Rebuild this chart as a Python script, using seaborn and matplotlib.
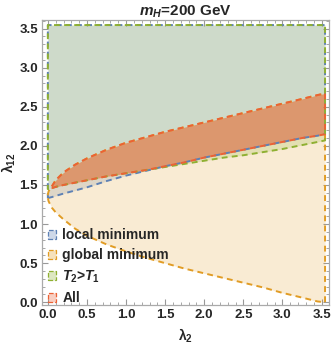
import numpy as np
import seaborn as sns
import matplotlib.pyplot as plt
from matplotlib.patches import Patch
from matplotlib.colors import to_rgba
from matplotlib.ticker import MultipleLocator

# common lambda_2 grid for all boundaries
lam2 = [0, 0.01, 0.03, 0.05, 0.1, 0.2, 0.35, 0.5, 0.75, 1.0, 1.25, 1.5, 1.75,
        2.0, 2.25, 2.5, 2.75, 3.0, 3.25, 3.45, 3.545]
# lower edge of local-minimum region
local_lo = [1.33, 1.335, 1.34, 1.345, 1.36, 1.39, 1.43, 1.47, 1.55, 1.62, 1.68,
            1.74, 1.79, 1.85, 1.90, 1.95, 2.00, 2.05, 2.10, 2.13, 2.15]
# global-minimum region, lower and upper edge
global_lo = [1.33, 1.29, 1.25, 1.21, 1.15, 1.06, 0.94, 0.85, 0.74, 0.65, 0.57,
             0.50, 0.43, 0.37, 0.31, 0.25, 0.19, 0.12, 0.06, 0.01, 0.0]
global_hi = [1.38, 1.42, 1.45, 1.48, 1.56, 1.66, 1.76, 1.84, 1.95, 2.04, 2.11,
             2.18, 2.24, 2.30, 2.36, 2.42, 2.48, 2.54, 2.60, 2.65, 2.67]
# lower edge of T2>T1 region
t2_lo = [1.44, 1.445, 1.455, 1.46, 1.475, 1.50, 1.53, 1.56, 1.61, 1.65, 1.69,
         1.73, 1.77, 1.81, 1.85, 1.88, 1.92, 1.96, 2.01, 2.05, 2.07]
lam_max = 3.545

labels = ["local minimum", "global minimum", "$T_2$>$T_1$", "All"]
colors = ["#5E81B5", "#E19C24", "#8FB032", "#EB6235"]

sns.set_theme(style="ticks")
plt.rcParams['font.family'] = ['Liberation Sans', 'DejaVu Sans']
plt.rcParams['font.weight'] = 'bold'
plt.rcParams['mathtext.fontset'] = 'custom'
plt.rcParams['mathtext.rm'] = 'Liberation Sans:bold'
plt.rcParams['mathtext.bf'] = 'Liberation Sans:bold'
plt.rcParams['mathtext.it'] = 'Liberation Sans:bold:italic'

fig = plt.figure(figsize=(3.32, 3.5), dpi=100)
ax = fig.add_axes([0.1265, 0.1286, 0.8655, 0.8143])

x = np.array(lam2)
top = np.full_like(x, lam_max)
lo_all = np.maximum(local_lo, t2_lo)
hi = np.array(global_hi)

ax.fill_between(x, local_lo, top, color=colors[0], alpha=0.2, lw=0)
ax.fill_between(x, global_lo, global_hi, color=colors[1], alpha=0.2, lw=0)
ax.fill_between(x, t2_lo, top, color=colors[2], alpha=0.2, lw=0)
ax.fill_between(x, lo_all, hi, where=hi > lo_all, interpolate=True,
                color=colors[3], alpha=0.5, lw=0)


def outline(xs, ys, c, off=0):
    sns.lineplot(x=xs, y=ys, sort=False, estimator=None, color=c, lw=1.4,
                 dashes=False, linestyle=(off, (3, 2.2)), ax=ax)


# region boundaries
outline(list(x) + [lam_max, 0, 0], list(local_lo) + [lam_max, lam_max, local_lo[0]], colors[0])
outline(list(x) + list(x[::-1]) + [0], list(global_lo) + list(hi[::-1]) + [global_lo[0]], colors[1])
outline(list(x) + [lam_max, 0, 0], list(t2_lo) + [lam_max, lam_max, t2_lo[0]], colors[2], off=2.6)
m = hi >= lo_all
outline(list(x[m]) + list(x[m][::-1]), list(lo_all[m]) + list(hi[m][::-1]), colors[3])

ax.set_xlim(-0.075, 3.60)
ax.set_ylim(-0.035, 3.61)
ax.xaxis.set_major_locator(MultipleLocator(0.5))
ax.yaxis.set_major_locator(MultipleLocator(0.5))
ax.xaxis.set_minor_locator(MultipleLocator(0.1))
ax.yaxis.set_minor_locator(MultipleLocator(0.1))
ax.xaxis.set_major_formatter(lambda v, p: f"{v:.1f}")
ax.yaxis.set_major_formatter(lambda v, p: f"{v:.1f}")
ax.tick_params(which='both', direction='in', top=True, right=True,
               color='#999999', labelsize=9.5, pad=3)
ax.tick_params(which='major', length=4, width=0.8)
ax.tick_params(which='minor', length=2, width=0.6)
for lab in ax.get_xticklabels() + ax.get_yticklabels():
    lab.set_fontweight('bold')
for s in ax.spines.values():
    s.set_color('#aaaaaa')
    s.set_linewidth(0.9)

ax.set_title("$m_H$=200 GeV", fontsize=11, fontweight='bold', pad=3)
ax.set_xlabel("λ$_2$", fontsize=10, fontweight='bold', labelpad=4)
ax.set_ylabel("λ$_{12}$", fontsize=10, fontweight='bold')
ax.yaxis.set_label_coords(-0.085, 0.5)

handles = [Patch(facecolor=to_rgba(c, 0.3), edgecolor=c, linestyle='--', linewidth=0.9)
           for c in colors]
leg = ax.legend(handles, labels, loc='upper left', bbox_to_anchor=(0.02, 0.27),
                frameon=False, fontsize=10, handlelength=0.6, handleheight=0.6,
                handletextpad=0.45, labelspacing=0.45, borderpad=0, borderaxespad=0)
for t in leg.get_texts():
    t.set_fontweight('bold')

fig.savefig("out.png", dpi=100)
